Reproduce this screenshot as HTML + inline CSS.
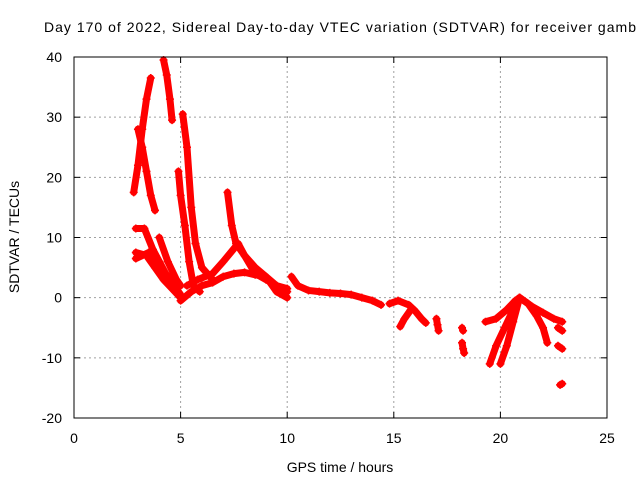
<!DOCTYPE html>
<html><head><meta charset="utf-8"><style>
body{margin:0;background:#fff}
svg text{font-family:"Liberation Sans",sans-serif;font-size:14px;fill:#000}
</style></head><body>
<svg id="chart" width="640" height="480">
<text x="44" y="32" textLength="592" lengthAdjust="spacing">Day 170 of 2022, Sidereal Day-to-day VTEC variation (SDTVAR) for receiver gamb</text>
<g id="grid"></g>
<g id="series"></g>
<rect x="74" y="57" width="533" height="361" fill="none" stroke="#000" stroke-width="1"/>
<g id="axes"></g>
<text x="340" y="472" text-anchor="middle">GPS time / hours</text>
<text transform="translate(19,237) rotate(-90)" text-anchor="middle">SDTVAR / TECUs</text>
</svg>
<script>
const xTicks=[0,5,10,15,20,25];
const yTicks=[-20,-10,0,10,20,30,40];
const trackA=[[2.8,17.5],[3.0,22],[3.2,28],[3.4,33],[3.6,36.5]];
const trackB=[[3.0,28],[3.2,25],[3.4,21],[3.6,17],[3.8,14.5]];
const trackC=[[4.2,39.5],[4.35,37],[4.5,33],[4.6,29.5]];
const trackD=[[4.9,21],[5.0,17],[5.2,12],[5.4,6],[5.6,2],[5.9,1]];
const trackE=[[5.1,30.5],[5.3,25],[5.5,15],[5.7,9],[6.0,5],[6.5,3]];
const trackF=[[7.2,17.5],[7.4,12],[7.6,9],[8.0,7],[8.5,4],[9.0,3],[9.5,2],[10.0,1.5]];
const trackG=[[2.9,11.5],[3.3,11.5],[3.7,8],[4.0,6],[4.3,4],[4.8,1.5],[5.0,0.5]];
const trackH=[[2.9,7.5],[3.4,7],[3.8,5],[4.2,3],[4.6,1.5],[5.0,0]];
const trackH2=[[2.9,6.5],[3.5,7.5],[3.9,5],[4.5,3]];
const trackI=[[4.0,10],[4.4,6],[4.8,3],[5.0,2]];
const trackJ=[[5.0,-0.5],[5.5,1],[6.0,2],[6.5,2.5],[7.0,3.5],[7.5,4],[8.0,4.2],[8.5,3.8],[9.0,3.5],[9.5,2],[10.0,1]];
const trackK=[[5.3,2],[5.8,3],[6.5,4],[7.0,6],[7.7,9],[8.0,7],[8.5,5],[9.0,3.5],[9.5,1],[10.0,0]];
const trackL=[[10.2,3.5],[10.5,2],[11.0,1.2],[11.5,1],[12.0,0.8],[12.5,0.7],[13.0,0.5],[13.5,0],[14.0,-0.5],[14.4,-1.2]];
const trackM=[[14.8,-1],[15.2,-0.5],[15.7,-1.2],[16.0,-2.2],[16.3,-3.5],[16.5,-4.2]];
const trackM2=[[15.8,-2],[15.5,-3.5],[15.3,-4.8]];
const trackN=[[17.0,-3.5],[17.05,-4.5],[17.1,-5.5]];
const trackO=[[18.2,-5],[18.25,-5.5]];
const trackO2=[[18.2,-7.5],[18.25,-8.5],[18.3,-9.2]];
const trackP=[[19.3,-4],[19.8,-3.5],[20.3,-2],[20.7,-0.5],[20.9,0]];
const trackQ=[[19.5,-11],[19.8,-8],[20.2,-5],[20.6,-2],[20.9,0]];
const trackR=[[20.0,-11],[20.3,-8],[20.6,-4],[20.9,0]];
const trackS=[[20.9,0],[21.3,-1],[21.7,-3],[22.0,-5],[22.2,-7.5]];
const trackT=[[20.9,0],[21.5,-1.5],[22.0,-2.5],[22.5,-3.5],[22.9,-4]];
const trackU=[[22.7,-5],[22.9,-5.5]];
const trackV=[[22.7,-8],[22.9,-8.5]];
const trackW=[[22.8,-14.5],[22.9,-14.3]];
const tracks=[trackA,trackB,trackC,trackD,trackE,trackF,trackG,trackH,trackH2,trackI,trackJ,trackK,trackL,trackM,trackM2,trackN,trackO,trackO2,trackP,trackQ,trackR,trackS,trackT,trackU,trackV,trackW];

const X0=74,X1=607,Y0=418,Y1=57,xMin=0,xMax=25,yMin=-20,yMax=40;
const sx=v=>X0+(v-xMin)/(xMax-xMin)*(X1-X0);
const sy=v=>Y0-(v-yMin)/(yMax-yMin)*(Y0-Y1);
const NS="http://www.w3.org/2000/svg";
const grid=document.getElementById('grid'),axes=document.getElementById('axes'),ser=document.getElementById('series');
function mk(t,a,p){const e=document.createElementNS(NS,t);for(const k in a)e.setAttribute(k,a[k]);p.appendChild(e);return e;}
xTicks.forEach(t=>{
  const x=sx(t);
  if(t>xMin&&t<xMax){const g=mk('line',{x1:x,y1:Y0,x2:x,y2:Y1,stroke:'#a0a0a0','stroke-dasharray':'2,3'},grid);
  
  }
  const l=mk('line',{x1:x,y1:Y0,x2:x,y2:Y0-6,stroke:'#000'},axes);
  
  
  const l2=mk('line',{x1:x,y1:Y1,x2:x,y2:Y1+6,stroke:'#000'},axes);
  
  
  const tx=mk('text',{x:x,y:443,'text-anchor':'middle'},axes);tx.textContent=t;
  
  
});
yTicks.forEach(t=>{
  const y=sy(t);
  if(t>yMin&&t<yMax){const g=mk('line',{x1:X0,y1:y,x2:X1,y2:y,stroke:'#a0a0a0','stroke-dasharray':'2,3'},grid);
  
  }
  const l=mk('line',{x1:X0,y1:y,x2:X0+6,y2:y,stroke:'#000'},axes);
  
  
  const l2=mk('line',{x1:X1,y1:y,x2:X1-6,y2:y,stroke:'#000'},axes);
  
  
  const tx=mk('text',{x:62,y:y+5,'text-anchor':'end'},axes);tx.textContent=t;
  
  
});
tracks.forEach(tr=>{
  const pl=mk('polyline',{points:tr.map(p=>sx(p[0])+','+sy(p[1])).join(' '),fill:'none',stroke:'#f00','stroke-width':7,'stroke-linejoin':'round','stroke-linecap':'round'},ser);
  
  
  tr.forEach(p=>{
    const x=sx(p[0]),y=sy(p[1]);
    const m=mk('path',{d:`M${x-4},${y}H${x+4}M${x},${y-4}V${y+4}`,stroke:'#f00','stroke-width':1.5},ser);
    
    
  });
});
</script>
</body></html>
